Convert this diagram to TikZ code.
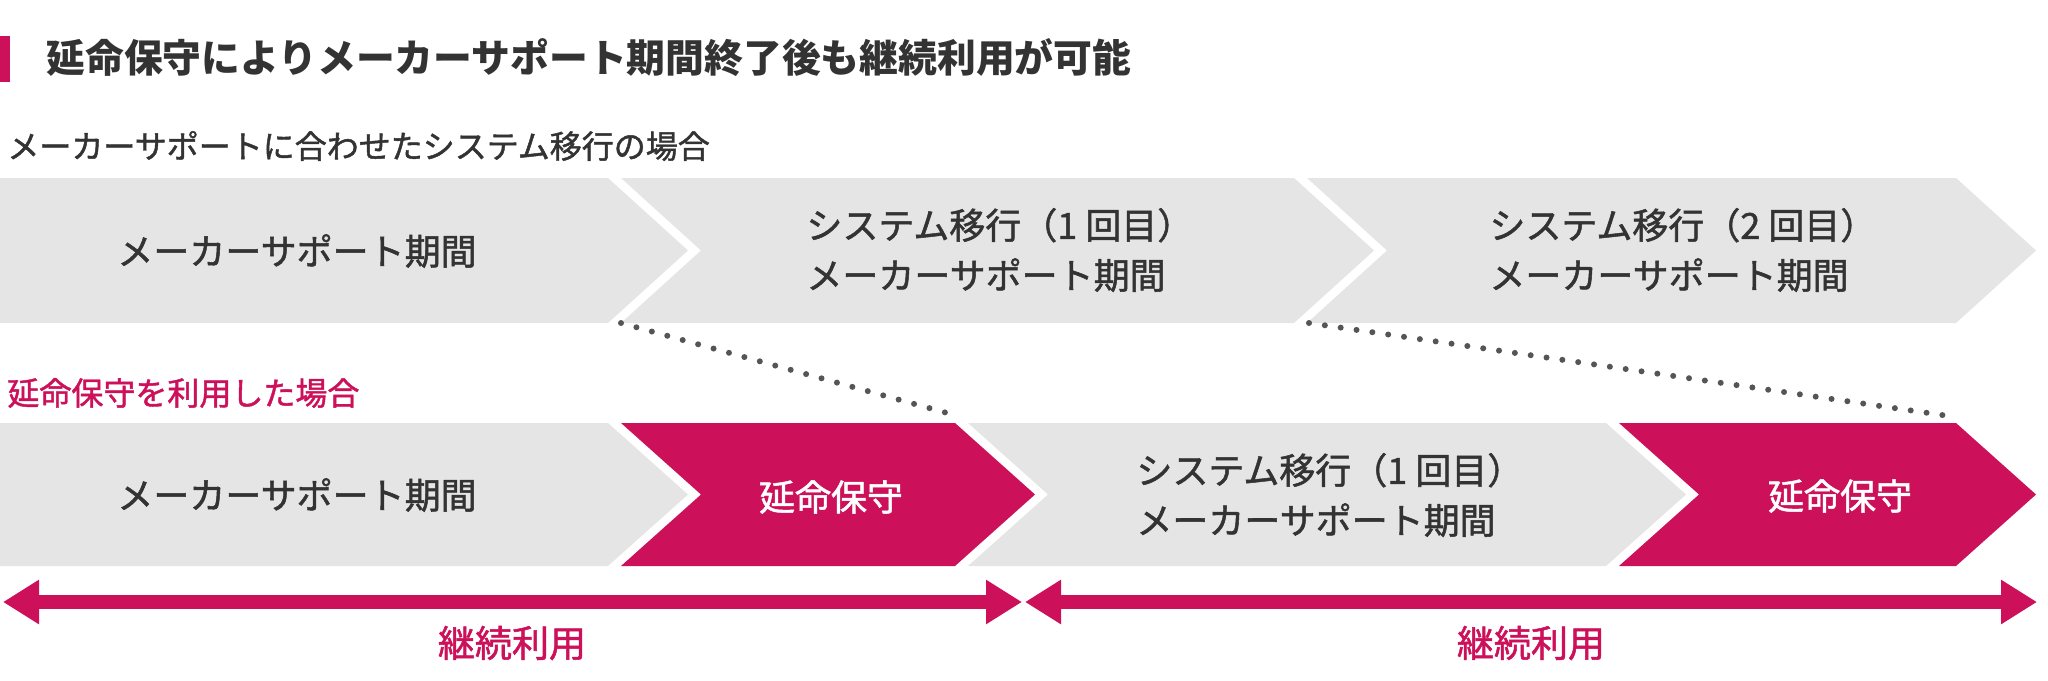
\documentclass[tikz,border=0pt]{standalone}
\usepackage{fontspec}
\setmainfont{Noto Sans CJK JP}
\newfontfamily\jpmedium[FakeBold=1.4]{Noto Sans CJK JP}
\usetikzlibrary{arrows.meta}
\definecolor{enji}{RGB}{204,16,90}
\definecolor{haiiro}{RGB}{229,229,229}
\definecolor{sumi}{RGB}{51,51,51}
\definecolor{tengray}{RGB}{85,85,85}

\begin{document}
\begin{tikzpicture}[x=0.5pt, y=-0.5pt,
        midashi/.style={font=\fontsize{19.4}{24}\selectfont\bfseries, text=sumi, anchor=west, inner sep=0pt},
        koumoku/.style={font=\fontsize{16}{20}\selectfont\jpmedium, anchor=west, inner sep=0pt},
        hako/.style={font=\fontsize{18}{25}\selectfont\jpmedium, text=sumi, inner sep=0pt},
        tensen/.style={tengray, line width=3pt, line cap=round, dash pattern=on 0pt off 8pt},
        yajirushi/.style={enji, line width=7pt, {Triangle[length=18pt,width=21pt]}-{Triangle[length=18pt,width=21pt]}},
        keizoku/.style={font=\fontsize{18.5}{22}\selectfont\jpmedium, text=enji, inner sep=0pt}]
        \useasboundingbox (0,0) rectangle (2048,680);

        % 見出し
        \fill[enji] (0,36) rectangle (10,82);
        \node[midashi] (title) at (46,58) {延命保守によりメーカーサポート期間終了後も継続利用が可能};

        % 上段
        \node[koumoku, text=sumi] (case1) at (7,146) {メーカーサポートに合わせたシステム移行の場合};
        \fill[haiiro] (0,178) -- (608,178) -- (688,250.5) -- (608,323) -- (0,323) -- cycle;
        \fill[haiiro] (621,178) -- (1294,178) -- (1374,250.5) -- (1294,323) -- (621,323) -- (701,250.5) -- cycle;
        \fill[haiiro] (1307,178) -- (1956,178) -- (2036,250.5) -- (1956,323) -- (1307,323) -- (1387,250.5) -- cycle;
        \node[hako] (support1) at (297,251) {メーカーサポート期間};
        \node[hako, anchor=west, align=left] (ikou1) at (806,250) {システム移行（1 回目）\\メーカーサポート期間};
        \node[hako, anchor=west, align=left] (ikou2) at (1489,250) {システム移行（2 回目）\\メーカーサポート期間};

        % 下段
        \node[koumoku, text=enji] (case2) at (7,393) {延命保守を利用した場合};
        \fill[haiiro] (0,423) -- (608,423) -- (688,494.5) -- (608,566) -- (0,566) -- cycle;
        \fill[enji] (621,423) -- (955,423) -- (1035,494.5) -- (955,566) -- (621,566) -- (701,494.5) -- cycle;
        \fill[haiiro] (968,423) -- (1606,423) -- (1686,494.5) -- (1606,566) -- (968,566) -- (1048,494.5) -- cycle;
        \fill[enji] (1619,423) -- (1956,423) -- (2036,494.5) -- (1956,566) -- (1619,566) -- (1699,494.5) -- cycle;
        \node[hako] (support2) at (297,495) {メーカーサポート期間};
        \node[hako, text=white] (enmei1) at (831,497) {延命保守};
        \node[hako, anchor=west, align=left] (ikou3) at (1136,495) {システム移行（1 回目）\\メーカーサポート期間};
        \node[hako, text=white] (enmei2) at (1840,496) {延命保守};

        % 点線
        \coordinate (end1) at (621,323);
        \coordinate (end2) at (1309,323);
        \coordinate (ext1) at (958,416);
        \coordinate (ext2) at (1949,416);
        \draw[tensen] (end1) -- (ext1);
        \draw[tensen] (end2) -- (ext2);

        % 継続利用
        \coordinate (l1) at (3,602);
        \coordinate (r1) at (1022,602);
        \coordinate (l2) at (1025,602);
        \coordinate (r2) at (2037,602);
        \draw[yajirushi] (l1) -- (r1);
        \draw[yajirushi] (l2) -- (r2);
        \node[keizoku] (use1) at (512,643) {継続利用};
        \node[keizoku] (use2) at (1531,643) {継続利用};
    \end{tikzpicture}
\end{document}
